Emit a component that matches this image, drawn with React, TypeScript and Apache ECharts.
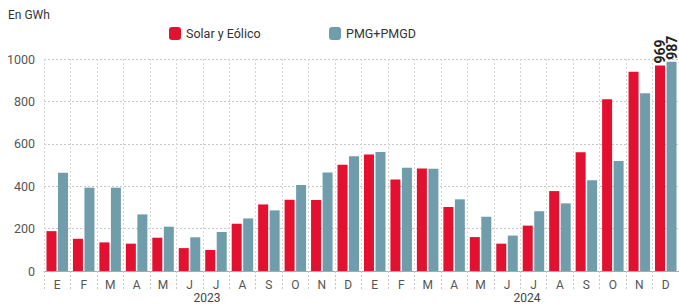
import React, { useEffect, useRef } from "react";
import * as echarts from "echarts";

const months = ["E","F","M","A","M","J","J","A","S","O","N","D","E","F","M","A","M","J","J","A","S","O","N","D"];
const years = ["2023", "2024"];
const solarEolico = [188,152,135,129,157,108,99,223,314,336,335,501,549,432,484,302,160,129,214,377,560,810,940,969];
const pmg = [464,393,393,267,209,159,184,248,286,406,465,541,561,487,482,338,256,167,282,319,428,519,838,987];
const yTicks = { min: 0, max: 1000, interval: 200 };

const RED = "#e3102f";
const BLUE = "#6f9dab";
const FONT = "Roboto, 'Open Sans', sans-serif";

export default function App() {
  const ref = useRef<HTMLDivElement>(null);
  useEffect(() => {
    if (!ref.current) return;
    const chart = echarts.init(ref.current, undefined, { renderer: "svg" });
    const lastLabel = {
      show: true,
      position: "top",
      rotate: 90,
      align: "left",
      verticalAlign: "middle",
      distance: 2,
      fontSize: 14,
      fontWeight: "bold",
      color: "#222",
      fontFamily: FONT,
    };
    const mk = (arr: number[]) =>
      arr.map((v, i) => (i === arr.length - 1 ? { value: v, label: lastLabel } : v));
    chart.setOption({
      animation: false,
      textStyle: { fontFamily: FONT },
      legend: [
        {
          data: ["Solar y Eólico"],
          left: 164,
          top: 22,
          itemWidth: 12,
          itemHeight: 13,
          itemGap: 0,
          textStyle: { fontSize: 12.5, color: "#333", fontFamily: FONT },
        },
        {
          data: ["PMG+PMGD"],
          left: 324,
          top: 22,
          itemWidth: 12,
          itemHeight: 13,
          textStyle: { fontSize: 12.5, color: "#333", fontFamily: FONT },
        },
      ],
      graphic: [
        { type: "text", left: 8, top: 9, style: { text: "En GWh", fontSize: 12, fill: "#333", fontFamily: FONT } },
        { type: "text", x: 207, y: 298, style: { text: years[0], fontSize: 12, fill: "#444", fontFamily: FONT, align: "center", verticalAlign: "middle" } },
        { type: "text", x: 527, y: 298, style: { text: years[1], fontSize: 12, fill: "#444", fontFamily: FONT, align: "center", verticalAlign: "middle" } },
      ],
      grid: { left: 44, top: 59, width: 637, height: 212, containLabel: false },
      xAxis: {
        type: "category",
        data: months,
        boundaryGap: true,
        axisLine: { show: true, lineStyle: { color: "#aaa", width: 1 } },
        axisTick: { show: true, interval: 0, length: 18, lineStyle: { color: "#c8c8c8", type: [2, 2] } },
        splitLine: { show: true, interval: 0, lineStyle: { color: "#d6d6d6", type: [2, 2] } },
        axisLabel: { interval: 0, margin: 8, fontSize: 12, color: "#555", fontFamily: FONT },
      },
      yAxis: {
        type: "value",
        min: yTicks.min,
        max: yTicks.max,
        interval: yTicks.interval,
        axisLine: { show: false },
        axisTick: { show: false },
        splitLine: { show: true, lineStyle: { color: "#c8c8c8", type: [2, 2] } },
        axisLabel: { fontSize: 12.5, color: "#555", margin: 9, fontFamily: FONT, formatter: (v: number) => String(v) },
      },
      series: [
        {
          name: "Solar y Eólico",
          type: "bar",
          data: mk(solarEolico),
          barWidth: 10,
          barGap: "15%",
          itemStyle: { color: RED },
        },
        {
          name: "PMG+PMGD",
          type: "bar",
          data: mk(pmg),
          barWidth: 10,
          itemStyle: { color: BLUE },
        },
      ],
    });
    return () => chart.dispose();
  }, []);
  return (
    <div
      ref={ref}
      style={{ position: "fixed", left: 0, top: 0, width: 679, height: 306, background: "#fff" }}
    />
  );
}
